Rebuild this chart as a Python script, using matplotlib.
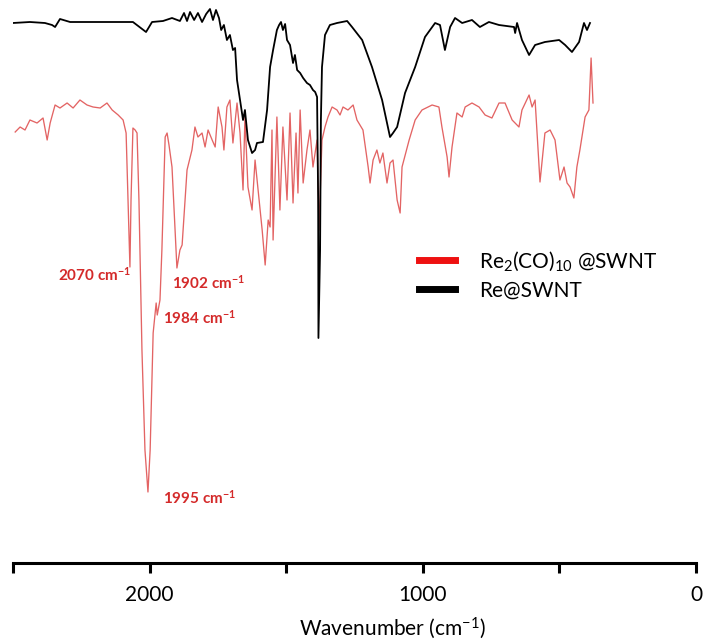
import numpy as np
import matplotlib
matplotlib.use("Agg")
import matplotlib.pyplot as plt
from matplotlib.lines import Line2D

plt.rcParams['font.family'] = ['Lato', 'DejaVu Sans']
plt.rcParams['mathtext.fontset'] = 'custom'
plt.rcParams['mathtext.rm'] = 'Lato'
plt.rcParams['mathtext.it'] = 'Lato:italic'
plt.rcParams['mathtext.bf'] = 'Lato:bold'

# Re@SWNT spectrum (wavenumber, offset transmittance a.u.)
wn_re = [2500, 2438, 2383, 2357, 2346, 2328, 2291, 2218, 2145, 2061, 2013, 1991,
         1951, 1918, 1889, 1874, 1863, 1852, 1837, 1823, 1808, 1793, 1779, 1768,
         1757, 1746, 1738, 1728, 1717, 1706, 1695, 1687, 1680, 1669, 1658, 1651,
         1640, 1625, 1614, 1607, 1585, 1570, 1559, 1548, 1541, 1534, 1526, 1519,
         1512, 1504, 1497, 1486, 1475, 1468, 1460, 1449, 1438, 1424, 1413, 1402,
         1394, 1387, 1383, 1382, 1376, 1373, 1369, 1358, 1340, 1314, 1277, 1259,
         1222, 1186, 1149, 1120, 1109, 1094, 1065, 1028, 992, 955, 937, 919, 900,
         882, 856, 820, 791, 758, 721, 666, 662, 655, 637, 611, 589, 553, 501,
         479, 454, 428, 410, 399, 388]
t_re = [540, 541, 540, 538, 536, 544, 541, 541, 541, 541, 531, 541,
        542, 545, 542, 550, 542, 551, 543, 550, 541, 549, 554, 543,
        553, 545, 533, 538, 523, 528, 513, 515, 483, 463, 443, 453,
        423, 410, 413, 420, 421, 453, 496, 513, 523, 533, 538, 541,
        533, 539, 523, 518, 500, 508, 493, 490, 485, 480, 478, 473,
        471, 466, 363, 225, 313, 443, 496, 528, 538, 540, 542, 536,
        523, 496, 463, 426, 430, 436, 470, 496, 526, 540, 538, 513, 536,
        545, 540, 543, 536, 541, 538, 536, 530, 540, 523, 508, 518, 521, 523,
        518, 511, 521, 540, 533, 540]

# Re2(CO)10@SWNT spectrum
wn_co = [2492, 2474, 2456, 2438, 2412, 2390, 2375, 2364, 2346, 2328, 2302, 2280,
         2255, 2229, 2207, 2181, 2156, 2137, 2115, 2097, 2086, 2079, 2072, 2068,
         2061, 2053, 2046, 2039, 2028, 2017, 2006, 1998, 1987, 1976, 1972, 1962,
         1955, 1943, 1936, 1929, 1918, 1900, 1889, 1881, 1870, 1863, 1845, 1834,
         1823, 1808, 1797, 1786, 1771, 1760, 1749, 1735, 1728, 1717, 1706, 1695,
         1680, 1669, 1658, 1651, 1640, 1625, 1614, 1603, 1588, 1577, 1566, 1559,
         1552, 1548, 1534, 1523, 1512, 1497, 1486, 1475, 1464, 1457, 1449, 1438,
         1424, 1413, 1402, 1387, 1380, 1369, 1358, 1347, 1332, 1314, 1303, 1292,
         1274, 1255, 1241, 1219, 1200, 1193, 1182, 1168, 1157, 1146, 1131, 1120,
         1109, 1094, 1083, 1076, 1050, 1028, 1003, 966, 941, 930, 911, 904, 893,
         875, 856, 845, 820, 794, 772, 747, 721, 699, 673, 648, 637, 611, 600,
         589, 571, 553, 534, 516, 498, 483, 472, 461, 447, 436, 425, 406, 392,
         384, 377]
t_co = [431, 436, 433, 443, 440, 445, 423, 440, 458, 455, 460, 455,
        463, 458, 456, 455, 460, 453, 448, 443, 430, 363, 296, 363,
        435, 433, 430, 363, 213, 113, 71, 113, 230, 260, 248, 263,
        313, 426, 430, 418, 396, 295, 313, 318, 363, 393, 413, 436,
        426, 430, 416, 433, 423, 416, 456, 436, 413, 456, 463, 420,
        460, 430, 373, 446, 376, 353, 403, 373, 333, 298, 343, 336,
        433, 323, 446, 353, 436, 363, 450, 360, 430, 370, 453, 380,
        413, 433, 396, 423, 333, 423, 436, 446, 456, 453, 448, 456,
        453, 458, 443, 433, 396, 380, 403, 413, 400, 410, 380, 400,
        403, 363, 350, 396, 423, 443, 453, 458, 456, 436, 406, 386, 416,
        450, 446, 456, 460, 456, 448, 445, 460, 460, 443, 436, 453, 468, 456,
        463, 381, 430, 433, 423, 383, 396, 380, 376, 365, 396, 413, 446, 453,
        505, 460]

peak_labels = ['2070', '1902', '1984', '1995']
peak_wn = [2335, 1918, 1951, 1951]
peak_t = [288, 280, 245, 65]

fig = plt.figure(figsize=(7.04, 6.44), dpi=100)
ax = fig.add_axes([13 / 704, 81 / 644, 683 / 704, 563 / 644])

ax.plot(wn_co, t_co, color='#e36464', lw=0.95)
ax.plot(wn_re, t_re, color='black', lw=1.3)

for lab, x, y in zip(peak_labels, peak_wn, peak_t):
    ax.text(x, y, lab + r' cm$^{\mathbf{-1}}$', color='#d42a2a', fontsize=11,
            fontweight='bold', ha='left', va='center')

ax.set_xlim(2500, 0)
ax.set_ylim(0, 563)
ax.set_xticks([2500, 2000, 1500, 1000, 500, 0])
ax.set_xticklabels(['', '2000', '', '1000', '', '0'])
ax.set_yticks([])
for s in ['top', 'left', 'right']:
    ax.spines[s].set_visible(False)
ax.spines['bottom'].set_linewidth(2.2)
ax.tick_params(axis='x', direction='out', length=7, width=2.2, pad=9,
               labelsize=15, colors='black')
ax.set_xlabel('Wavenumber (cm$^{-1}$)', fontsize=15)
ax.xaxis.set_label_coords(0.556, -0.094)

handles = [Line2D([], [], color='#ee1111', lw=5),
           Line2D([], [], color='black', lw=5)]
ax.legend(handles, [r'Re$_2$(CO)$_{10}$ @SWNT', 'Re@SWNT'],
          loc='center left', bbox_to_anchor=(0.594, 0.512), frameon=False,
          fontsize=15, borderpad=0, borderaxespad=0, handlelength=1.73,
          handletextpad=1.15, labelspacing=0.35)

fig.savefig('out.png', dpi=100)
